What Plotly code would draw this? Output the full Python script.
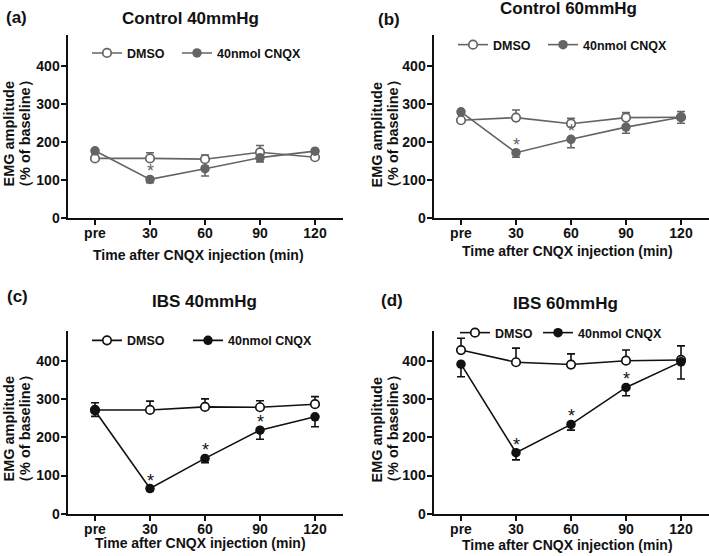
import plotly.graph_objects as go

# ---------------- data ----------------
times = ["pre", "30", "60", "90", "120"]
series_names = ["DMSO", "40nmol CNQX"]

# (a) Control 40mmHg
a_dmso = [157, 157, 155, 173, 160]
a_dmso_err = [8, 15, 11, 18, 5]
a_cnqx = [177, 102, 130, 159, 176]
a_cnqx_err = [6, 9, 19, 11, 6]
a_sig = ["30"]

# (b) Control 60mmHg
b_dmso = [257, 264, 248, 264, 265]
b_dmso_err = [6, 20, 14, 13, 15]
b_cnqx = [279, 172, 207, 239, 265]
b_cnqx_err = [5, 12, 22, 16, 16]
b_sig = ["30", "60"]

# (c) IBS 40mmHg
c_dmso = [272, 272, 280, 279, 287]
c_dmso_err = [19, 23, 21, 17, 20]
c_cnqx = [270, 66, 145, 219, 254]
c_cnqx_err = [15, 6, 11, 24, 26]
c_sig = ["30", "60", "90"]

# (d) IBS 60mmHg
d_dmso = [429, 397, 391, 401, 403]
d_dmso_err = [31, 37, 28, 28, 37]
d_cnqx = [392, 160, 234, 331, 398]
d_cnqx_err = [33, 19, 15, 22, 45]
d_sig = ["30", "60", "90"]

y_ticks = [0, 100, 200, 300, 400]
y_max = 480

panel_titles = ["Control 40mmHg", "Control 60mmHg", "IBS 40mmHg", "IBS 60mmHg"]
panel_labels = ["(a)", "(b)", "(c)", "(d)"]
x_title = "Time after CNQX injection (min)"
y_title_1 = "EMG amplitude"
y_title_2 = "（% of baseline）"

# ---------------- layout helpers ----------------
W, H = 709, 556
FONT = "Liberation Sans, Arial, sans-serif"
AXC = "#111111"


def px(x):
    return x / W


def py(y):
    return 1 - y / H


GRAY = "#646464"
BLACK = "#111111"

panels = [
    dict(dmso=a_dmso, de=a_dmso_err, cnqx=a_cnqx, ce=a_cnqx_err, sig=a_sig, color=GRAY,
         xd=(67.5, 342.5), y0=218.3, legend="legend", lx=107, ly=53.3, ew=45,
         title=(190.7, 18), label=(16, 17), xt=(198, 255), yt=(8.5, 25, 134)),
    dict(dmso=b_dmso, de=b_dmso_err, cnqx=b_cnqx, ce=b_cnqx_err, sig=b_sig, color=GRAY,
         xd=(433.5, 708.5), y0=218.3, legend="legend2", lx=473, ly=45, ew=45,
         title=(568, 8.5), label=(389, 19), xt=(567, 251), yt=(376.5, 393, 134)),
    dict(dmso=c_dmso, de=c_dmso_err, cnqx=c_cnqx, ce=c_cnqx_err, sig=c_sig, color=BLACK,
         xd=(67.5, 342.5), y0=513.7, legend="legend3", lx=107, ly=340.7, ew=56,
         title=(204, 301), label=(17.5, 296), xt=(200, 543), yt=(8.5, 25, 429)),
    dict(dmso=d_dmso, de=d_dmso_err, cnqx=d_cnqx, ce=d_cnqx_err, sig=d_sig, color=BLACK,
         xd=(433.5, 708.5), y0=513.7, legend="legend4", lx=475, ly=333, ew=38,
         title=(565, 303), label=(391.5, 300.5), xt=(567, 545), yt=(376.5, 393, 429)),
]

PX_PER_UNIT = 0.3815

fig = go.Figure()
annotations = []
layout = dict(
    width=W, height=H, margin=dict(l=0, r=0, t=0, b=0, autoexpand=False),
    paper_bgcolor="white", plot_bgcolor="white",
    font=dict(family=FONT, size=13, color=AXC),
    showlegend=True,
)

for i, p in enumerate(panels):
    k = "" if i == 0 else str(i + 1)
    xa, ya = "x" + k, "y" + k
    col = p["color"]
    # DMSO (open circles, error bars upward)
    fig.add_trace(go.Scatter(
        x=times, y=p["dmso"], xaxis=xa, yaxis=ya, name=series_names[0],
        mode="lines+markers", legend=p["legend"], legendwidth=p["ew"],
        line=dict(color=col, width=1.6),
        marker=dict(symbol="circle", size=8.5, color="white", line=dict(color=col, width=1.7)),
        error_y=dict(type="data", symmetric=False, array=p["de"], arrayminus=[0] * len(times),
                     color=col, thickness=1.6, width=4),
    ))
    # CNQX (filled circles, error bars downward)
    fig.add_trace(go.Scatter(
        x=times, y=p["cnqx"], xaxis=xa, yaxis=ya, name=series_names[1],
        mode="lines+markers", legend=p["legend"], legendwidth=110,
        line=dict(color=col, width=1.6),
        marker=dict(symbol="circle", size=9.5, color=col, line=dict(color=col, width=0)),
        error_y=dict(type="data", symmetric=False, array=[0] * len(times), arrayminus=p["ce"],
                     color=col, thickness=1.6, width=4),
    ))
    # significance stars
    for t in p["sig"]:
        j = times.index(t)
        annotations.append(dict(
            x=j, y=p["cnqx"][j], xref=xa, yref=ya, text="*",
            showarrow=False, xanchor="center", yanchor="middle", yshift=8,
            font=dict(family=FONT, size=18, color=col),
        ))

    # axes
    top = p["y0"] - y_max * PX_PER_UNIT
    layout["xaxis" + k] = dict(
        domain=[px(p["xd"][0]), px(p["xd"][1])], anchor=ya, type="category",
        categoryorder="array", categoryarray=times, range=[-0.5, 4.5],
        showline=True, linecolor=AXC, linewidth=2, ticks="outside", ticklen=5,
        tickwidth=1.6, tickcolor=AXC, showgrid=False, zeroline=False,
        ticklabelstandoff=-4,
        tickfont=dict(family=FONT, size=14, weight="bold", color=AXC),
    )
    layout["yaxis" + k] = dict(
        domain=[py(p["y0"]), py(top)], anchor=xa, range=[0, y_max],
        tickvals=y_ticks, showline=True, linecolor=AXC, linewidth=2,
        ticks="outside", ticklen=5, tickwidth=1.6, tickcolor=AXC,
        showgrid=False, zeroline=False, ticklabelstandoff=-2,
        tickfont=dict(family=FONT, size=14, weight="bold", color=AXC),
    )
    # legend
    layout[p["legend"]] = dict(
        orientation="h", x=px(p["lx"] - 20), y=py(p["ly"]), xanchor="left", yanchor="middle",
        xref="paper", yref="paper",
        bgcolor="rgba(0,0,0,0)", borderwidth=0,
        font=dict(family=FONT, size=12.5, weight="bold", color=AXC),
    )
    # titles
    annotations.append(dict(
        x=px(p["title"][0]), y=py(p["title"][1]), xref="paper", yref="paper",
        text=panel_titles[i], showarrow=False, xanchor="center", yanchor="middle",
        font=dict(family=FONT, size=17, weight="bold", color=AXC),
    ))
    annotations.append(dict(
        x=px(p["label"][0]), y=py(p["label"][1]), xref="paper", yref="paper",
        text=panel_labels[i], showarrow=False, xanchor="center", yanchor="middle",
        font=dict(family=FONT, size=17, weight="bold", color=AXC),
    ))
    annotations.append(dict(
        x=px(p["xt"][0]), y=py(p["xt"][1]), xref="paper", yref="paper",
        text=x_title, showarrow=False, xanchor="center", yanchor="middle",
        font=dict(family=FONT, size=14, weight="bold", color=AXC),
    ))
    annotations.append(dict(
        x=px(p["yt"][0]), y=py(p["yt"][2]), xref="paper", yref="paper",
        text=y_title_1, showarrow=False, xanchor="center", yanchor="middle", textangle=-90,
        font=dict(family=FONT, size=14.5, weight="bold", color=AXC),
    ))
    annotations.append(dict(
        x=px(p["yt"][1]), y=py(p["yt"][2]), xref="paper", yref="paper",
        text=y_title_2, showarrow=False, xanchor="center", yanchor="middle", textangle=-90,
        font=dict(family=FONT, size=14.5, weight="bold", color=AXC),
    ))

layout["annotations"] = annotations
fig.update_layout(**layout)
fig.write_html(
    "out.html",
    config={"displayModeBar": False},
    post_script="document.body.style.margin='0';document.body.style.overflow='hidden';",
)
